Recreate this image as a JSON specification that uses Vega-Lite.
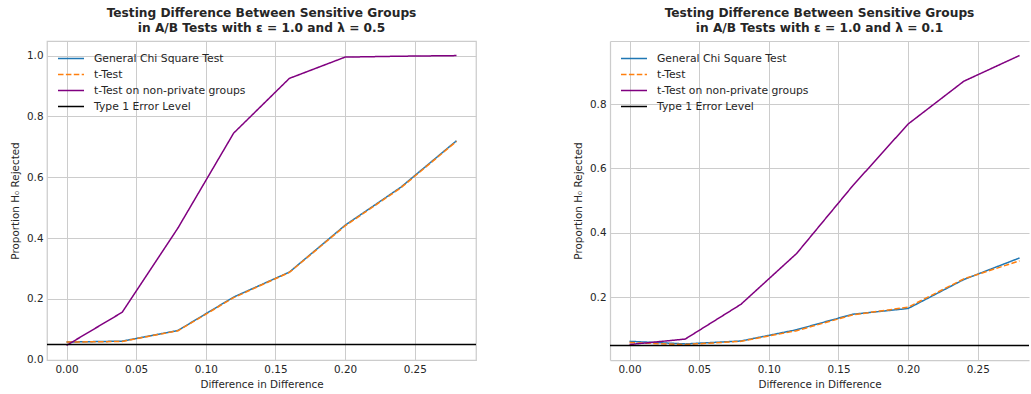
{
  "$schema": "https://vega.github.io/schema/vega-lite/v6.json",
  "padding": {"left": 9, "top": 6, "right": 0, "bottom": 0},
  "background": "white",
  "datasets": {
    "d": [
      {"panel": "L", "series": "General Chi Square Test", "diff": 0.00, "prop": 0.058},
      {"panel": "L", "series": "General Chi Square Test", "diff": 0.04, "prop": 0.061},
      {"panel": "L", "series": "General Chi Square Test", "diff": 0.08, "prop": 0.096},
      {"panel": "L", "series": "General Chi Square Test", "diff": 0.12, "prop": 0.206},
      {"panel": "L", "series": "General Chi Square Test", "diff": 0.16, "prop": 0.288},
      {"panel": "L", "series": "General Chi Square Test", "diff": 0.20, "prop": 0.442},
      {"panel": "L", "series": "General Chi Square Test", "diff": 0.24, "prop": 0.567},
      {"panel": "L", "series": "General Chi Square Test", "diff": 0.28, "prop": 0.720},
      {"panel": "L", "series": "t-Test", "diff": 0.00, "prop": 0.058},
      {"panel": "L", "series": "t-Test", "diff": 0.04, "prop": 0.060},
      {"panel": "L", "series": "t-Test", "diff": 0.08, "prop": 0.095},
      {"panel": "L", "series": "t-Test", "diff": 0.12, "prop": 0.204},
      {"panel": "L", "series": "t-Test", "diff": 0.16, "prop": 0.287},
      {"panel": "L", "series": "t-Test", "diff": 0.20, "prop": 0.440},
      {"panel": "L", "series": "t-Test", "diff": 0.24, "prop": 0.565},
      {"panel": "L", "series": "t-Test", "diff": 0.28, "prop": 0.718},
      {"panel": "L", "series": "t-Test on non-private groups", "diff": 0.00, "prop": 0.047},
      {"panel": "L", "series": "t-Test on non-private groups", "diff": 0.04, "prop": 0.156},
      {"panel": "L", "series": "t-Test on non-private groups", "diff": 0.08, "prop": 0.433},
      {"panel": "L", "series": "t-Test on non-private groups", "diff": 0.12, "prop": 0.745},
      {"panel": "L", "series": "t-Test on non-private groups", "diff": 0.16, "prop": 0.925},
      {"panel": "L", "series": "t-Test on non-private groups", "diff": 0.20, "prop": 0.995},
      {"panel": "L", "series": "t-Test on non-private groups", "diff": 0.24, "prop": 0.998},
      {"panel": "L", "series": "t-Test on non-private groups", "diff": 0.28, "prop": 1.000},
      {"panel": "L", "series": "Type 1 Error Level", "prop": 0.05},
      {"panel": "R", "series": "General Chi Square Test", "diff": 0.00, "prop": 0.063},
      {"panel": "R", "series": "General Chi Square Test", "diff": 0.04, "prop": 0.055},
      {"panel": "R", "series": "General Chi Square Test", "diff": 0.08, "prop": 0.064},
      {"panel": "R", "series": "General Chi Square Test", "diff": 0.12, "prop": 0.099},
      {"panel": "R", "series": "General Chi Square Test", "diff": 0.16, "prop": 0.147},
      {"panel": "R", "series": "General Chi Square Test", "diff": 0.20, "prop": 0.165},
      {"panel": "R", "series": "General Chi Square Test", "diff": 0.24, "prop": 0.255},
      {"panel": "R", "series": "General Chi Square Test", "diff": 0.28, "prop": 0.322},
      {"panel": "R", "series": "t-Test", "diff": 0.00, "prop": 0.059},
      {"panel": "R", "series": "t-Test", "diff": 0.04, "prop": 0.053},
      {"panel": "R", "series": "t-Test", "diff": 0.08, "prop": 0.063},
      {"panel": "R", "series": "t-Test", "diff": 0.12, "prop": 0.096},
      {"panel": "R", "series": "t-Test", "diff": 0.16, "prop": 0.145},
      {"panel": "R", "series": "t-Test", "diff": 0.20, "prop": 0.169},
      {"panel": "R", "series": "t-Test", "diff": 0.24, "prop": 0.257},
      {"panel": "R", "series": "t-Test", "diff": 0.28, "prop": 0.313},
      {"panel": "R", "series": "t-Test on non-private groups", "diff": 0.00, "prop": 0.053},
      {"panel": "R", "series": "t-Test on non-private groups", "diff": 0.04, "prop": 0.070},
      {"panel": "R", "series": "t-Test on non-private groups", "diff": 0.08, "prop": 0.178},
      {"panel": "R", "series": "t-Test on non-private groups", "diff": 0.12, "prop": 0.336},
      {"panel": "R", "series": "t-Test on non-private groups", "diff": 0.16, "prop": 0.545},
      {"panel": "R", "series": "t-Test on non-private groups", "diff": 0.20, "prop": 0.738},
      {"panel": "R", "series": "t-Test on non-private groups", "diff": 0.24, "prop": 0.871},
      {"panel": "R", "series": "t-Test on non-private groups", "diff": 0.28, "prop": 0.951},
      {"panel": "R", "series": "Type 1 Error Level", "prop": 0.05}
    ]
  },
  "data": {"name": "d"},
  "bounds": "flush",
  "spacing": 134,
  "resolve": {"scale": {"color": "independent", "strokeDash": "independent", "x": "independent", "y": "independent"}},
  "hconcat": [
    {
      "title": {"text": ["Testing Difference Between Sensitive Groups", "in A/B Tests with ε = 1.0 and λ = 0.5"]},
      "width": 429,
      "height": 319,
      "view": {"stroke": "#cccccc", "strokeWidth": 1.25},
      "transform": [{"filter": "datum.panel == 'L'"}],
      "encoding": {
        "y": {"field": "prop", "type": "quantitative", "scale": {"domain": [-0.001, 1.048], "nice": false, "zero": false},
              "axis": {"title": "Proportion H₀ Rejected", "values": [0, 0.2, 0.4, 0.6, 0.8, 1.0], "format": ".1f"}},
        "color": {"field": "series", "type": "nominal",
                  "scale": {"domain": ["General Chi Square Test", "t-Test", "t-Test on non-private groups", "Type 1 Error Level"],
                            "range": ["#1f77b4", "#ff7f0e", "#800080", "#000000"]},
                  "legend": {"title": null}},
        "strokeDash": {"field": "series", "type": "nominal",
                  "scale": {"domain": ["General Chi Square Test", "t-Test", "t-Test on non-private groups", "Type 1 Error Level"],
                            "range": [[1, 0], [5.5, 2.4], [1, 0], [1, 0]]},
                  "legend": {"title": null}}
      },
      "layer": [
        {"transform": [{"filter": "datum.series == 'General Chi Square Test'"}], "mark": {"type": "line", "strokeWidth": 1.5, "clip": true},
         "encoding": {"x": {"field": "diff", "type": "quantitative", "scale": {"domain": [-0.014, 0.294], "nice": false, "zero": false},
                            "axis": {"title": "Difference in Difference", "values": [0, 0.05, 0.1, 0.15, 0.2, 0.25], "format": ".2f"}}}},
        {"transform": [{"filter": "datum.series == 't-Test'"}], "mark": {"type": "line", "strokeWidth": 1.5, "clip": true},
         "encoding": {"x": {"field": "diff", "type": "quantitative"}}},
        {"transform": [{"filter": "datum.series == 't-Test on non-private groups'"}], "mark": {"type": "line", "strokeWidth": 1.5, "clip": true},
         "encoding": {"x": {"field": "diff", "type": "quantitative"}}},
        {"transform": [{"filter": "datum.series == 'Type 1 Error Level'"}], "mark": {"type": "rule", "strokeWidth": 1.6},
         "encoding": {}}
      ]
    },
    {
      "title": {"text": ["Testing Difference Between Sensitive Groups", "in A/B Tests with ε = 1.0 and λ = 0.1"]},
      "width": 419,
      "height": 319,
      "view": {"stroke": null},
      "transform": [{"filter": "datum.panel == 'R'"}],
      "encoding": {
        "y": {"field": "prop", "type": "quantitative", "scale": {"domain": [0.005, 0.996], "nice": false, "zero": false},
              "axis": {"title": "Proportion H₀ Rejected", "values": [0.2, 0.4, 0.6, 0.8, 0.996], "labelExpr": "datum.value > 0.9 ? '' : format(datum.value, '.1f')",
                       "domain": true, "domainColor": "#cccccc", "domainWidth": 1.25}},
        "color": {"field": "series", "type": "nominal",
                  "scale": {"domain": ["General Chi Square Test", "t-Test", "t-Test on non-private groups", "Type 1 Error Level"],
                            "range": ["#1f77b4", "#ff7f0e", "#800080", "#000000"]},
                  "legend": {"title": null}},
        "strokeDash": {"field": "series", "type": "nominal",
                  "scale": {"domain": ["General Chi Square Test", "t-Test", "t-Test on non-private groups", "Type 1 Error Level"],
                            "range": [[1, 0], [5.5, 2.4], [1, 0], [1, 0]]},
                  "legend": {"title": null}}
      },
      "layer": [
        {"transform": [{"filter": "datum.series == 'General Chi Square Test'"}], "mark": {"type": "line", "strokeWidth": 1.5, "clip": true},
         "encoding": {"x": {"field": "diff", "type": "quantitative", "scale": {"domain": [-0.014, 0.2868], "nice": false, "zero": false},
                            "axis": {"title": "Difference in Difference", "values": [0, 0.05, 0.1, 0.15, 0.2, 0.25], "format": ".2f",
                                     "domain": true, "domainColor": "#cccccc", "domainWidth": 1.25}}}},
        {"transform": [{"filter": "datum.series == 't-Test'"}], "mark": {"type": "line", "strokeWidth": 1.5, "clip": true},
         "encoding": {"x": {"field": "diff", "type": "quantitative"}}},
        {"transform": [{"filter": "datum.series == 't-Test on non-private groups'"}], "mark": {"type": "line", "strokeWidth": 1.5, "clip": true},
         "encoding": {"x": {"field": "diff", "type": "quantitative"}}},
        {"transform": [{"filter": "datum.series == 'Type 1 Error Level'"}], "mark": {"type": "rule", "strokeWidth": 1.6},
         "encoding": {}}
      ]
    }
  ],
  "config": {
    "font": "DejaVu Sans",
    "axis": {
      "labelFont": "DejaVu Sans", "labelFontSize": 10.4, "labelColor": "#262626",
      "titleFont": "DejaVu Sans", "titleFontSize": 10.4, "titleFontWeight": "normal", "titleColor": "#262626",
      "ticks": false, "domain": false, "grid": true, "gridColor": "#cccccc", "gridWidth": 1,
      "labelPadding": 4, "titlePadding": 5
    },
    "axisY": {"titlePadding": 6},
    "title": {"font": "DejaVu Sans", "fontSize": 12.2, "fontWeight": "bold", "color": "#262626", "anchor": "middle", "offset": 7, "lineHeight": 15},
    "legend": {
      "orient": "none", "legendX": 10, "legendY": 11.5, "padding": 0,
      "labelFont": "DejaVu Sans", "labelFontSize": 10.8, "labelColor": "#262626",
      "symbolType": "M-2.6,0H2.6", "symbolSize": 100, "symbolStrokeWidth": 1.5, "symbolOffset": 8, "labelOffset": 17, "rowPadding": 5
    }
  }
}
